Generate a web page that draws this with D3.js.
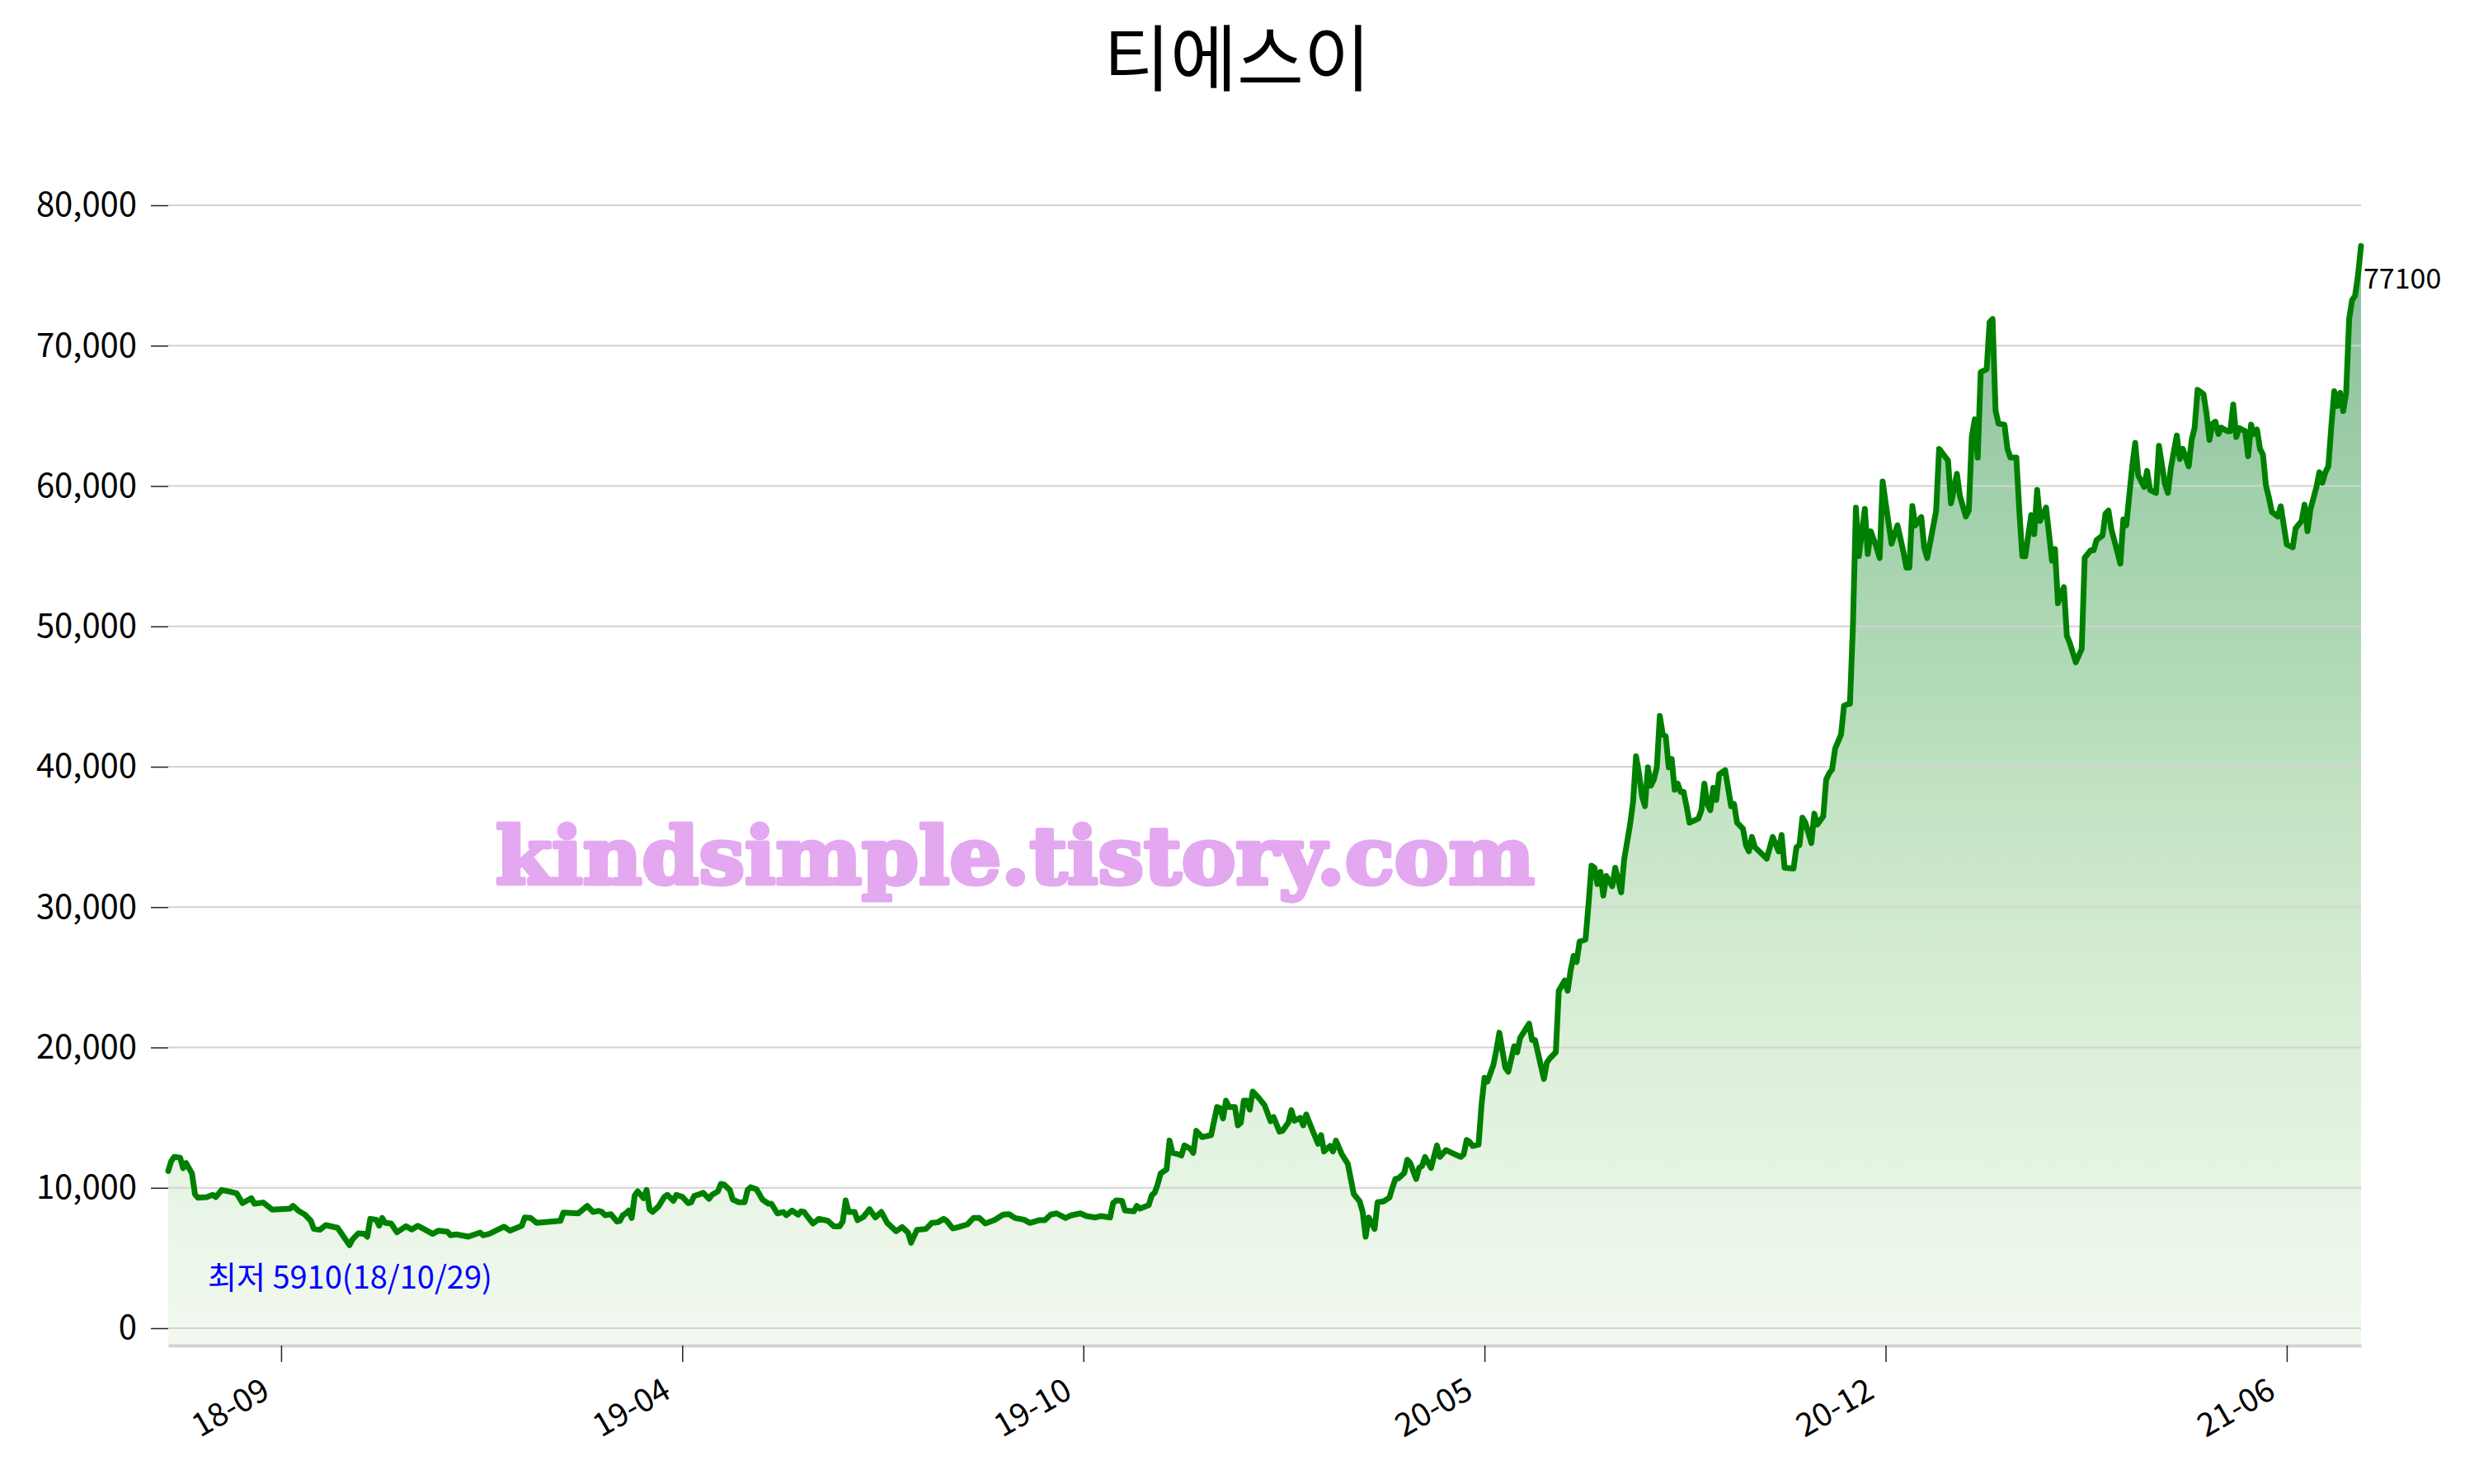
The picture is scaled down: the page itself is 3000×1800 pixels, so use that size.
<!DOCTYPE html>
<html>
<head>
<meta charset="utf-8">
<script src="https://cdn.jsdelivr.net/npm/d3@7"></script>
<style>
  body { margin: 0; background: #fff; }
  svg { display: block; font-family: 'Noto Sans CJK KR', 'Noto Sans', sans-serif; }
</style>
</head>
<body>
<div id="chart"></div>
<script>
// trading-day index (0 = first day shown) and close price at that day
const tradeDay = [
  0, 1, 2, 4, 5, 6, 8, 9, 10, 13, 15, 16, 18, 21, 23, 25, 28, 29, 32, 35,
  41, 42, 44, 46, 48, 49, 51, 53, 57, 61, 62, 64, 66, 67, 68, 70, 71, 72, 73, 75,
  77, 80, 82, 84, 86, 89, 91, 94, 95, 97, 101, 105, 106, 108, 113, 115, 119, 120, 122, 124,
  132, 133, 138, 141, 143, 145, 146, 147, 149, 151, 152, 153, 154, 155, 156, 157, 158, 160, 161, 162,
  163, 165, 167, 168, 170, 171, 173, 175, 176, 177, 179, 180, 182, 183, 185, 186, 187, 189, 190, 192,
  194, 195, 196, 198, 200, 202, 203, 205, 207, 208, 210, 212, 213, 214, 215, 217, 219, 222, 224, 226,
  227, 228, 229, 231, 232, 234, 236, 238, 240, 242, 245, 247, 249, 250, 252, 255, 257, 259, 261, 262,
  264, 266, 269, 271, 273, 275, 278, 281, 283, 285, 288, 290, 293, 295, 297, 299, 302, 304, 307, 309,
  312, 314, 317, 318, 319, 321, 322, 325, 326, 327, 330, 331, 332, 333, 334, 336, 337, 338, 340, 341,
  342, 344, 345, 346, 348, 351, 353, 354, 355, 356, 357, 359, 360, 361, 362, 363, 364, 365, 367, 369,
  371, 372, 374, 375, 377, 378, 379, 381, 382, 383, 385, 387, 388, 389, 391, 392, 393, 395, 397, 399,
  401, 402, 403, 404, 406, 407, 409, 411, 412, 413, 414, 416, 417, 418, 420, 421, 422, 423, 425, 427,
  428, 430, 432, 435, 436, 437, 438, 439, 441, 442, 443, 444, 446, 447, 448, 450, 451, 453, 454, 455,
  458, 459, 460, 463, 464, 465, 467, 468, 470, 471, 472, 473, 474, 475, 477, 478, 479, 480, 481, 482,
  483, 484, 486, 487, 489, 490, 492, 493, 494, 495, 496, 497, 498, 499, 500, 501, 502, 503, 504, 505,
  506, 507, 508, 509, 510, 511, 512, 515, 516, 517, 518, 519, 520, 521, 522, 524, 526, 527, 528, 530,
  531, 532, 533, 534, 538, 540, 542, 543, 544, 547, 548, 549, 550, 551, 553, 554, 555, 557, 558, 559,
  560, 561, 563, 564, 565, 566, 567, 568, 569, 571, 572, 573, 575, 576, 577, 578, 580, 582, 584, 585,
  586, 587, 588, 590, 591, 592, 595, 596, 599, 600, 602, 603, 605, 606, 607, 608, 609, 610, 612, 613,
  614, 615, 616, 618, 619, 620, 622, 623, 624, 625, 627, 628, 629, 630, 632, 634, 635, 636, 637, 638,
  639, 640, 642, 644, 645, 647, 648, 649, 651, 652, 653, 654, 656, 657, 658, 659, 661, 662, 663, 665,
  666, 667, 669, 670, 672, 673, 674, 676, 677, 678, 680, 681, 682, 683, 685, 686, 687, 688, 689, 690,
  691, 693, 694, 695, 696, 697, 699, 700, 701, 702, 703, 704, 705, 706, 707, 708, 710, 711, 712, 713,
  715, 716, 718, 719, 720, 721, 723, 724, 725, 726, 727, 728, 729, 730, 731, 732, 733, 734, 735, 736,
  737, 738
];

const closePrice = [
  11200, 11900, 12200, 12150, 11400, 11770, 11020, 9550, 9300, 9340, 9500, 9340, 9850, 9710, 9610, 8910, 9260, 8870, 8950, 8440,
  8520, 8710, 8340, 8090, 7650, 7070, 7010, 7340, 7150, 5910, 6320, 6760, 6720, 6520, 7790, 7730, 7300, 7850, 7500, 7460,
  6830, 7260, 7030, 7300, 7070, 6720, 6950, 6870, 6620, 6680, 6520, 6810, 6620, 6720, 7230, 6950, 7300, 7890, 7850, 7500,
  7650, 8240, 8180, 8710, 8280, 8360, 8280, 8050, 8120, 7600, 7650, 8050, 8180, 8380, 7850, 9460, 9750, 9260, 9850, 8480,
  8280, 8670, 9360, 9500, 9070, 9500, 9360, 8910, 8970, 9420, 9550, 9650, 9220, 9500, 9750, 10280, 10240, 9850, 9160, 8970,
  8970, 9850, 10040, 9890, 9160, 8870, 8870, 8180, 8280, 8050, 8380, 8090, 8320, 8280, 7990, 7460, 7790, 7650, 7260, 7260,
  7600, 9100, 8280, 8280, 7690, 7930, 8480, 7890, 8280, 7500, 6910, 7200, 6810, 6090, 7010, 7070, 7500, 7540, 7790, 7650,
  7110, 7200, 7400, 7850, 7850, 7460, 7690, 8090, 8120, 7850, 7730, 7500, 7690, 7690, 8090, 8180, 7850, 8050, 8180, 7990,
  7890, 7990, 7890, 8910, 9100, 9070, 8380, 8320, 8710, 8520, 8770, 9460, 9650, 10240, 11020, 11320, 13370, 12490, 12390, 12300,
  13020, 12790, 12490, 14060, 13610, 13760, 15760, 15680, 14940, 16210, 15760, 15760, 14450, 14650, 16210, 16210, 15570, 16860, 16410, 15880,
  14740, 15040, 14000, 14060, 14650, 15530, 14780, 14980, 14450, 15230, 14160, 13140, 13760, 12590, 12980, 12590, 13370, 12390, 11710, 9560,
  9030, 8280, 6520, 7890, 7070, 8970, 9030, 9300, 10010, 10630, 10670, 11060, 12000, 11770, 10630, 11420, 11570, 12200, 11420, 13020,
  12200, 12690, 12490, 12200, 12390, 13410, 13280, 12980, 13080, 15920, 17840, 17580, 18760, 19830, 21050, 18560, 18270, 20090, 19660, 20680,
  21700, 20530, 20530, 17760, 18930, 19220, 19660, 24040, 24770, 24040, 25500, 26520, 26090, 27550, 27690, 30180, 32950, 32810, 31640, 32510,
  30820, 32220, 31490, 32810, 31050, 33390, 35880, 37480, 40750, 39530, 37920, 37190, 39960, 38650, 39090, 39960, 43620, 42300, 42160, 39960,
  40550, 38360, 38800, 38210, 38210, 37190, 36020, 36310, 36900, 38800, 37340, 36900, 38500, 37630, 39470, 39760, 37190, 37340, 36020, 35580,
  34410, 33970, 35000, 34270, 33450, 35000, 33970, 35140, 32810, 32750, 34270, 34410, 36370, 36020, 34560, 36660, 35880, 36460, 39090, 39530,
  39820, 41280, 42300, 44350, 44440, 44490, 50050, 58460, 55010, 58370, 55160, 56770, 55600, 54870, 60330, 58810, 55890, 57200, 55300, 54190,
  54190, 58580, 57200, 57790, 55600, 54870, 58230, 62650, 61820, 58770, 60870, 59300, 57830, 58250, 63490, 64750, 62020, 68110, 68320, 71680,
  71890, 65380, 64440, 64370, 62650, 62020, 62020, 58250, 55000, 55000, 57930, 56570, 59720, 57510, 58460, 54680, 55520, 51640, 52370, 52790,
  49330, 48810, 47440, 48390, 54890, 55420, 55420, 56150, 56470, 58040, 58250, 56890, 55310, 54470, 57620, 57200, 61400, 63070, 60770, 59930,
  61080, 59720, 59510, 62860, 60140, 59510, 61290, 63600, 61920, 62650, 61400, 63280, 64160, 66850, 66540, 65170, 63280, 64440, 64580, 63700,
  64160, 63910, 63910, 65800, 63490, 64120, 63910, 62130, 64370, 63700, 64020, 62650, 62230, 60030, 59190, 58140, 57830, 58560, 57200, 55840,
  55630, 56990, 57510, 58670, 56780, 58350, 59930, 60980, 60240, 60980, 61400, 64230, 66750, 65700, 66640, 65340, 66640, 71890, 73250, 73560,
  75030, 77100
];

const tickDay = [38, 173, 308, 443, 578, 713];
const tickLabel = ['18-09', '19-04', '19-10', '20-05', '20-12', '21-06'];
const yTicks = [0, 10000, 20000, 30000, 40000, 50000, 60000, 70000, 80000];

const chartTitle = '티에스이';
const lowNote = '최저 5910(18/10/29)';
const lastNote = '77100';
const watermark = 'kindsimple.tistory.com';

const W = 3000;
const H = 1800;
const plot = { left: 204, right: 2863, top: 249, zero: 1611, bottom: 1632 };

const series = tradeDay.map((d, i) => ({ day: d, close: closePrice[i] }));

const x = d3.scaleLinear()
  .domain([0, d3.max(tradeDay)])
  .range([plot.left, plot.right]);

const y = d3.scaleLinear()
  .domain([0, 80000])
  .range([plot.zero, plot.top]);

const svg = d3.select('#chart')
  .append('svg')
  .attr('width', W)
  .attr('height', H);

/* GRADIENT */
const defs = svg.append('defs');
const grad = defs.append('linearGradient')
  .attr('id', 'fillGrad')
  .attr('gradientUnits', 'userSpaceOnUse')
  .attr('x1', 0).attr('x2', 0)
  .attr('y1', y(d3.max(closePrice)))
  .attr('y2', plot.bottom);

[
  [0.0, '#89bd98'],
  [0.08, '#91c39f'],
  [0.22, '#9fd0aa'],
  [0.42, '#b5dcb8'],
  [0.5, '#c3e3c3'],
  [0.72, '#dbefd9'],
  [0.9, '#ebf6e8'],
  [1.0, '#f2f8f0']
].forEach((s) => {
  grad.append('stop').attr('offset', s[0]).attr('stop-color', s[1]);
});

/* AREA */
const area = d3.area()
  .x((d) => x(d.day))
  .y0(plot.bottom)
  .y1((d) => y(d.close));

svg.append('path')
  .datum(series)
  .attr('d', area)
  .attr('fill', 'url(#fillGrad)');

/* GRID + Y AXIS */
svg.append('g')
  .selectAll('line')
  .data(yTicks)
  .enter()
  .append('line')
  .attr('x1', plot.left)
  .attr('x2', plot.right)
  .attr('y1', (d) => y(d))
  .attr('y2', (d) => y(d))
  .attr('stroke', '#d3d3d3')
  .attr('stroke-width', 2);

const yAxis = svg.append('g')
  .attr('transform', `translate(${plot.left},0)`)
  .call(d3.axisLeft(y).tickValues(yTicks).tickSize(21).tickPadding(17).tickFormat(d3.format(',')));

yAxis.select('.domain').remove();
yAxis.selectAll('.tick line').attr('stroke', '#222').attr('stroke-width', 1.5);
yAxis.selectAll('.tick text')
  .attr('fill', '#000')
  .style('font-size', '40px')
  .style('font-family', "'Noto Sans CJK KR', sans-serif");

/* X AXIS */
const xAxis = svg.append('g')
  .attr('transform', `translate(0,${plot.bottom})`)
  .call(d3.axisBottom(x).tickValues(tickDay).tickSizeInner(20).tickSizeOuter(0)
    .tickFormat((d, i) => tickLabel[i]));

xAxis.select('.domain').attr('stroke', '#d3d3d3').attr('stroke-width', 4);
xAxis.selectAll('.tick line').attr('stroke', '#222').attr('stroke-width', 1.5);
xAxis.selectAll('.tick text')
  .attr('fill', '#000')
  .attr('text-anchor', 'end')
  .attr('x', 0)
  .attr('y', 0)
  .attr('dy', 0)
  .attr('transform', 'translate(-12,62) rotate(-30)')
  .style('font-size', '39px')
  .style('font-family', "'Noto Sans CJK KR', sans-serif");

/* LINE */
const line = d3.line()
  .x((d) => x(d.day))
  .y((d) => y(d.close));

svg.append('path')
  .datum(series)
  .attr('d', line)
  .attr('fill', 'none')
  .attr('stroke', '#008000')
  .attr('stroke-width', 7)
  .attr('stroke-linejoin', 'round')
  .attr('stroke-linecap', 'round');

/* LABELS */
let last = series[series.length - 1];

svg.append('text')
  .attr('x', x(last.day) + 3)
  .attr('y', y(last.close) + 52)
  .attr('font-size', 34)
  .attr('fill', '#000')
  .text(lastNote);

svg.append('text')
  .attr('x', 252)
  .attr('y', 1563)
  .attr('font-size', 38)
  .attr('fill', '#0000ff')
  .text(lowNote);

svg.append('text')
  .attr('x', W / 2)
  .attr('y', 103)
  .attr('text-anchor', 'middle')
  .attr('font-size', 88)
  .attr('fill', '#000')
  .text(chartTitle);

svg.append('text')
  .attr('x', 601)
  .attr('y', 1072)
  .attr('textLength', 1260)
  .attr('lengthAdjust', 'spacingAndGlyphs')
  .attr('font-size', 96)
  .attr('font-weight', 'bold')
  .attr('fill', '#e3a8ef')
  .attr('stroke', '#e3a8ef')
  .attr('stroke-width', 5)
  .attr('stroke-linejoin', 'round')
  .style('font-family', "'DejaVu Serif', serif")
  .text(watermark);
</script>
</body>
</html>
